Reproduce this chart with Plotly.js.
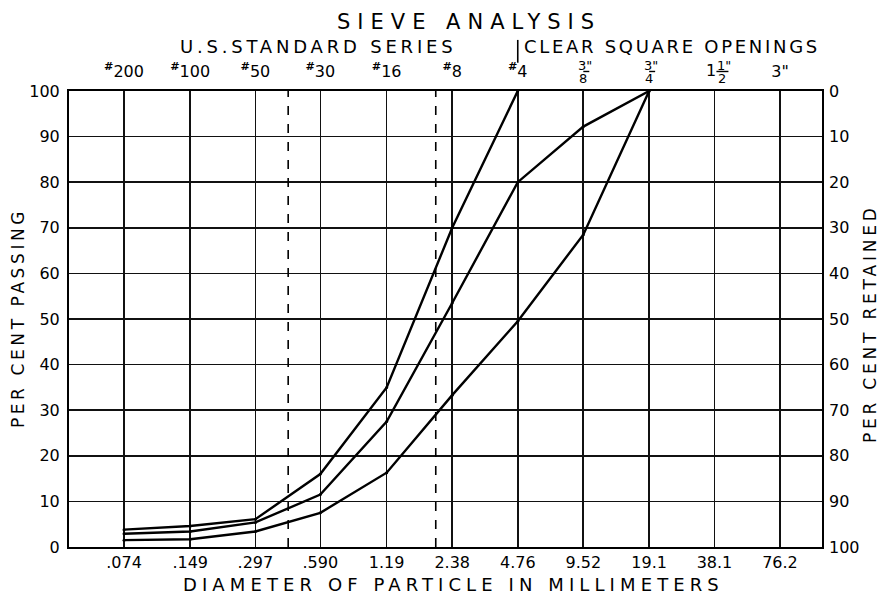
<!DOCTYPE html>
<html>
<head>
<meta charset="utf-8">
<script src="https://cdn.plot.ly/plotly-3.0.1.min.js"></script>
<style>html,body{margin:0;padding:0;background:#fff;}</style>
</head>
<body>
<div id="chart" style="width:882px;height:594px;"></div>
<script>
// Sieve sizes (mm) and labels
const sieveSizes = [0.074, 0.149, 0.297, 0.590, 1.19, 2.38, 4.76, 9.52, 19.1, 38.1, 76.2];
const bottomLabels = [".074", ".149", ".297", ".590", "1.19", "2.38", "4.76", "9.52", "19.1", "38.1", "76.2"];
// Top scale: U.S. standard sieve numbers and clear square openings
const topSizes = [0.074, 0.149, 0.297, 0.590, 1.19, 2.38, 4.76, 76.2];
const topLabels = [
  "<b><sup>#</sup></b>200", "<b><sup>#</sup></b>100", "<b><sup>#</sup></b>50", "<b><sup>#</sup></b>30",
  "<b><sup>#</sup></b>16", "<b><sup>#</sup></b>8", "<b><sup>#</sup></b>4", "3\""
];
// Stacked fraction labels (clear square openings, inches)
const fracSizes = [9.52, 19.1, 38.1];
const fracWhole = ["", "", "1"];
const fracNum = ["3\"", "3\"", "1\""];
const fracDen = ["8", "4", "2"];
// Dashed reference sizes (#40 and #10 sieves)
const dashedSizes = [0.42, 2.0];
const separatorSize = 4.76;

// Grading curves: per cent passing
const curveAsizes = [0.074, 0.149, 0.297, 0.590, 1.19, 2.38, 4.76];
const curveA = [3.8, 4.6, 6.1, 16.0, 35.0, 70.0, 100];
const curveBsizes = [0.074, 0.149, 0.297, 0.590, 1.19, 2.38, 4.76, 9.52, 19.1];
const curveB = [2.9, 3.4, 5.4, 11.5, 27.5, 53.5, 80.0, 92.2, 100];
const curveCsizes = [0.074, 0.149, 0.297, 0.590, 1.19, 2.38, 4.76, 9.52, 19.1];
const curveC = [1.5, 1.7, 3.4, 7.5, 16.3, 33.3, 49.5, 68.5, 100];

const leftTicks = [0,10,20,30,40,50,60,70,80,90,100];
const rightTicks = [0,10,20,30,40,50,60,70,80,90,100];

const FONT = "DejaVu Sans, Liberation Sans, sans-serif";
const ls = (t, px) => "<span style='letter-spacing:" + px + "px'>" + t + "</span>";

function curve(x, y) {
  return {
    x: x, y: y, type: 'scatter', mode: 'lines+markers',
    line: {color: '#000', width: 2.4},
    marker: {color: '#000', size: 3},
    xaxis: 'x', yaxis: 'y', showlegend: false, hoverinfo: 'x+y'
  };
}

const data = [
  curve(curveAsizes, curveA),
  curve(curveBsizes, curveB),
  curve(curveCsizes, curveC),
  {x: sieveSizes, y: sieveSizes.map(() => null), xaxis: 'x2', yaxis: 'y2',
   type: 'scatter', mode: 'lines', showlegend: false, hoverinfo: 'skip'}
];

const xr = [-1.3834, 2.0749];

const shapes = dashedSizes.map(s => ({
  type: 'line', xref: 'x', yref: 'paper', x0: s, x1: s, y0: 0, y1: 1,
  line: {color: '#000', width: 1.6, dash: 'dash'}
}));
shapes.push({type: 'line', xref: 'x', yref: 'paper', x0: separatorSize, x1: separatorSize,
  y0: 1.062, y1: 1.112, line: {color: '#000', width: 1.6}});

const annotations = [];
function ann(text, x, y, size, spacing, extra) {
  annotations.push(Object.assign({
    text: ls(text, spacing), xref: 'paper', yref: 'paper', x: x, y: y,
    xanchor: 'center', yanchor: 'middle', showarrow: false,
    font: {size: size, family: FONT, color: '#000'}
  }, extra || {}));
}
ann("SIEVE ANALYSIS", 0.531, 1.151, 21, 7);
ann("U.S.STANDARD SERIES", 0.331, 1.0965, 18, 3.8);
ann("CLEAR SQUARE OPENINGS", 0.801, 1.0965, 18, 2.7);
ann("DIAMETER OF PARTICLE IN MILLIMETERS", 0.511, -0.083, 18, 5.1);
ann("PER CENT PASSING", -0.0677, 0.502, 17, 3.6, {textangle: -90});
ann("PER CENT RETAINED", 1.0637, 0.491, 17, 3.8, {textangle: -90});

// stacked fractions on the top scale
fracSizes.forEach((s, i) => {
  const lx = Math.log10(s);
  const off = fracWhole[i] ? 8 : 0;
  if (fracWhole[i]) {
    annotations.push({text: fracWhole[i], xref: 'x', yref: 'paper', x: lx, y: 1.044,
      xanchor: 'center', yanchor: 'middle', xshift: -3, showarrow: false,
      font: {size: 16, family: FONT, color: '#000'}});
  }
  annotations.push({text: fracNum[i], xref: 'x', yref: 'paper', x: lx, y: 1.056,
    xanchor: 'center', yanchor: 'middle', xshift: off + 2, showarrow: false,
    font: {size: 13, family: FONT, color: '#000'}});
  annotations.push({text: fracDen[i], xref: 'x', yref: 'paper', x: lx, y: 1.027,
    xanchor: 'center', yanchor: 'middle', xshift: off, showarrow: false,
    font: {size: 13, family: FONT, color: '#000'}});
  shapes.push({type: 'line', xref: 'x', yref: 'paper', xsizemode: 'pixel', xanchor: s,
    x0: off - 6, x1: off + 6, y0: 1.0428, y1: 1.0428, line: {color: '#000', width: 1.4}});
});

const layout = {
  width: 882, height: 594,
  margin: {l: 69, r: 60, t: 91, b: 47},
  paper_bgcolor: '#fff', plot_bgcolor: '#fff',
  showlegend: false,
  font: {family: FONT, color: '#000', size: 16},
  xaxis: {
    type: 'log', range: xr, tickmode: 'array', tickvals: sieveSizes, ticktext: bottomLabels,
    showgrid: true, gridcolor: '#111', gridwidth: 1.6, zeroline: false,
    showline: true, linecolor: '#000', linewidth: 2, mirror: true,
    ticks: '', ticklabelstandoff: 0, tickfont: {size: 16, family: FONT, color: '#000'},
    fixedrange: true
  },
  xaxis2: {
    type: 'log', range: xr, overlaying: 'x', side: 'top', anchor: 'y',
    tickmode: 'array', tickvals: topSizes, ticktext: topLabels,
    showgrid: false, zeroline: false, showline: false, ticks: '',
    ticklabelstandoff: 10, tickfont: {size: 16, family: FONT, color: '#000'},
    fixedrange: true
  },
  yaxis: {
    range: [0, 100], tickmode: 'array', tickvals: leftTicks,
    showgrid: true, gridcolor: '#111', gridwidth: 1.6, zeroline: false,
    showline: true, linecolor: '#000', linewidth: 2, mirror: true,
    ticks: '', ticklabelstandoff: 4, tickfont: {size: 16, family: FONT, color: '#000'},
    fixedrange: true
  },
  yaxis2: {
    range: [100, 0], overlaying: 'y', side: 'right', anchor: 'x',
    tickmode: 'array', tickvals: rightTicks,
    showgrid: false, zeroline: false, showline: false, ticks: '',
    ticklabelstandoff: 6, tickfont: {size: 16, family: FONT, color: '#000'},
    fixedrange: true
  },
  shapes: shapes,
  annotations: annotations
};

Plotly.newPlot('chart', data, layout, {displayModeBar: false, staticPlot: true});
</script>
</body>
</html>
